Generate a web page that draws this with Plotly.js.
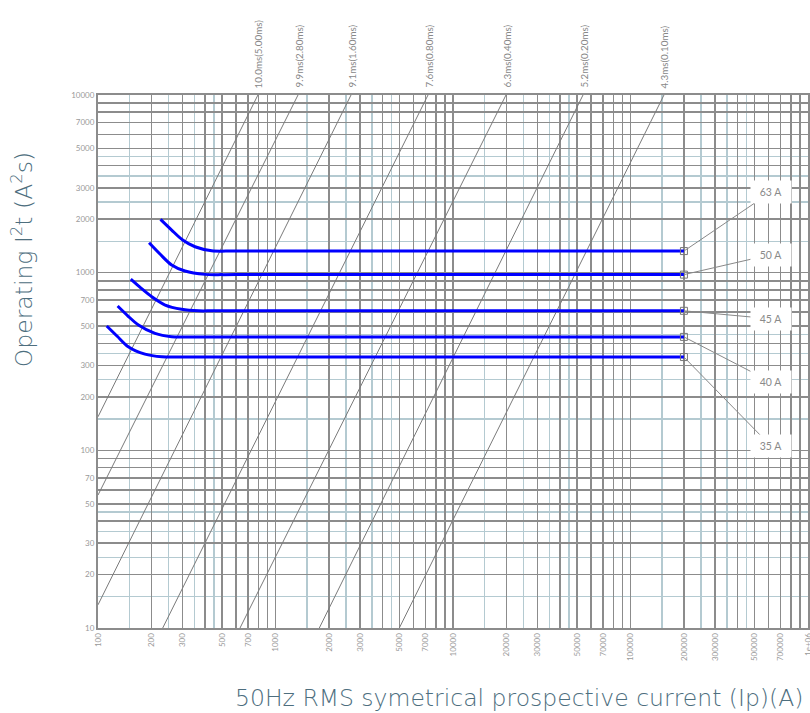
<!DOCTYPE html>
<html>
<head>
<meta charset="utf-8">
<script src="https://cdn.plot.ly/plotly-3.0.1.min.js"></script>
<style>html,body{margin:0;padding:0;background:#fff;}#chart{width:810px;height:713px;}</style>
</head>
<body>
<div id="chart"></div>
<script>
// ---- Data ----
const ratings = ["63 A", "50 A", "45 A", "40 A", "35 A"];
const c63_I   = [225, 260, 300, 352, 437, 554, 650, 200000];
const c63_E   = [1995, 1737, 1526, 1399, 1328, 1323, 1323, 1323];
const c50_I   = [194, 223.5, 260, 309, 401, 500, 600, 200000];
const c50_E   = [1473, 1273, 1104, 1021, 978, 975, 975, 975];
const c45_I   = [153, 174.7, 201, 239, 296, 370, 450, 200000];
const c45_E   = [920, 819, 732, 657, 622, 610, 610, 610];
const c40_I   = [129, 147.6, 169, 209.5, 260, 330, 400, 200000];
const c40_E   = [649, 570, 507, 455, 436, 435, 435, 435];
const c35_I   = [112, 128.8, 148, 184, 229, 290, 350, 200000];
const c35_E   = [501, 437, 383, 348, 336, 335, 335, 335];

// constant-time reference lines: two points each (Ip, I2t)
const diagLabels = ["10.0ms(5.00ms)", "9.9ms(2.80ms)", "9.1ms(1.60ms)", "7.6ms(0.80ms)", "6.3ms(0.40ms)", "5.2ms(0.20ms)", "4.3ms(0.10ms)"];
const diagStartI = [100, 100, 100, 231.5, 631, 1765, 4983];
const diagStartE = [154.5, 56, 13.5, 10, 10, 10, 10];
const diagEndI   = [796, 1339, 2664, 7232, 19890, 54000, 154400];
const diagEndE   = [10000, 10000, 10000, 10000, 10000, 10000, 10000];

const xTickLabelVals = [100,200,300,500,700,1000,2000,3000,5000,7000,10000,20000,30000,50000,70000,100000,200000,300000,500000,700000,1000000];
const xTickLabelText = ["100","200","300","500","700","1000","2000","3000","5000","7000","10000","20000","30000","50000","70000","100000","200000","300000","500000","700000","1e+06"];
const yTickLabelVals = [10,20,30,50,70,100,200,300,500,700,1000,2000,3000,5000,7000,10000];
const yTickLabelText = ["10","20","30","50","70","100","200","300","500","700","1000","2000","3000","5000","7000","10000"];
const majorMant = [1,2,3,4,5,6,7,8,9];
const minorMant = [1.5,2.5,3.5,4.5];

// ---- Build grids ----
function gridVals(decades, mant, last) {
  const v = [];
  decades.forEach(d => mant.forEach(m => v.push(+(m * d).toPrecision(6))));
  if (last) v.push(last);
  return v;
}
function makeTicks(vals, labVals, labText) {
  return vals.map(v => { const i = labVals.indexOf(v); return i >= 0 ? labText[i] : " "; });
}
const xMajor = gridVals([100, 1000, 10000, 100000], majorMant, 1000000);
const xMinor = gridVals([100, 1000, 10000, 100000], minorMant);
const yMajor = gridVals([10, 100, 1000], majorMant, 10000);
const yMinor = gridVals([10, 100, 1000], minorMant);

const FONT = "Lato, 'Open Sans', sans-serif";
const TFONT = "'DejaVu Sans', 'Open Sans', sans-serif";
const traces = [];
for (let i = 0; i < diagStartI.length; i++) {
  traces.push({x: [diagStartI[i], diagEndI[i]], y: [diagStartE[i], diagEndE[i]], mode: "lines",
    line: {color: "#7a7a7a", width: 1}, hoverinfo: "skip"});
}
const curvesI = [c63_I, c50_I, c45_I, c40_I, c35_I];
const curvesE = [c63_E, c50_E, c45_E, c40_E, c35_E];
for (let i = 0; i < curvesI.length; i++) {
  traces.push({x: curvesI[i], y: curvesE[i], mode: "lines", name: ratings[i],
    line: {color: "#0000ff", width: 3, shape: "spline", smoothing: 0.8}});
}
traces.push({x: curvesI.map(a => a[a.length - 1]), y: curvesE.map(a => a[a.length - 1]), mode: "markers",
  marker: {symbol: "square-open", size: 7, color: "#777", line: {width: 1, color: "#777"}}, hoverinfo: "skip"});

const annotations = [];
const labelOffsets = [[87, -59], [87, -20], [87, 8], [87, 45], [87, 89]];
for (let i = 0; i < ratings.length; i++) {
  const a = curvesI[i], b = curvesE[i];
  annotations.push({x: Math.log10(a[a.length - 1]), y: Math.log10(b[b.length - 1]), xref: "x", yref: "y",
    text: ratings[i], showarrow: true, arrowhead: 0, arrowwidth: 1, arrowcolor: "#888",
    ax: labelOffsets[i][0], ay: labelOffsets[i][1], bgcolor: "#fff", width: 38, height: 20,
    font: {family: FONT, size: 10.5, color: "#8a8a8a"}});
}
for (let i = 0; i < diagLabels.length; i++) {
  annotations.push({x: Math.log10(diagEndI[i]), y: 1, xref: "x", yref: "paper", text: diagLabels[i],
    textangle: -90, showarrow: false, xanchor: "center", yanchor: "bottom", yshift: 5,
    font: {family: FONT, size: 9.8, color: "#888"}});
}
annotations.push({x: 1, y: -0.131, xref: "paper", yref: "paper", xanchor: "right", yanchor: "middle", xshift: -3,
  text: "50Hz RMS symetrical prospective current (Ip)(A)", showarrow: false,
  font: {family: TFONT, size: 23.5, color: "#4d6e7e", weight: 200}});
annotations.push({x: 0, y: 0.69, xref: "paper", yref: "paper", xanchor: "center", yanchor: "middle", xshift: -76,
  text: "Operating I<sup>2</sup>t (A<sup>2</sup>s)", textangle: -90, showarrow: false,
  font: {family: TFONT, size: 23.5, color: "#4d6e7e", weight: 200}});

const axisCommon = {type: "log", tickmode: "array", showgrid: true, gridcolor: "#8c8c8c", gridwidth: 1.5,
  showline: true, mirror: true, linecolor: "#8c8c8c", linewidth: 2, ticks: "", zeroline: false,
  ticklabeloverflow: "allow", tickfont: {family: FONT, size: 8, color: "#9a9a9a"}};
const layout = {
  width: 810, height: 713, margin: {l: 98, r: 2, t: 95, b: 85},
  paper_bgcolor: "#fff", plot_bgcolor: "#fff", showlegend: false,
  xaxis: Object.assign({}, axisCommon, {range: [2, 6], tickvals: xMajor, ticktext: makeTicks(xMajor, xTickLabelVals, xTickLabelText),
    tickangle: -90, minor: {tickmode: "array", tickvals: xMinor, showgrid: true, gridcolor: "#b4cad1", gridwidth: 1.5, ticks: ""}}),
  yaxis: Object.assign({}, axisCommon, {range: [1, 4], tickvals: yMajor, ticktext: makeTicks(yMajor, yTickLabelVals, yTickLabelText),
    minor: {tickmode: "array", tickvals: yMinor, showgrid: true, gridcolor: "#b4cad1", gridwidth: 1.5, ticks: ""}}),
  annotations: annotations
};
Plotly.newPlot("chart", traces, layout, {displayModeBar: false, staticPlot: true});
</script>
</body>
</html>
